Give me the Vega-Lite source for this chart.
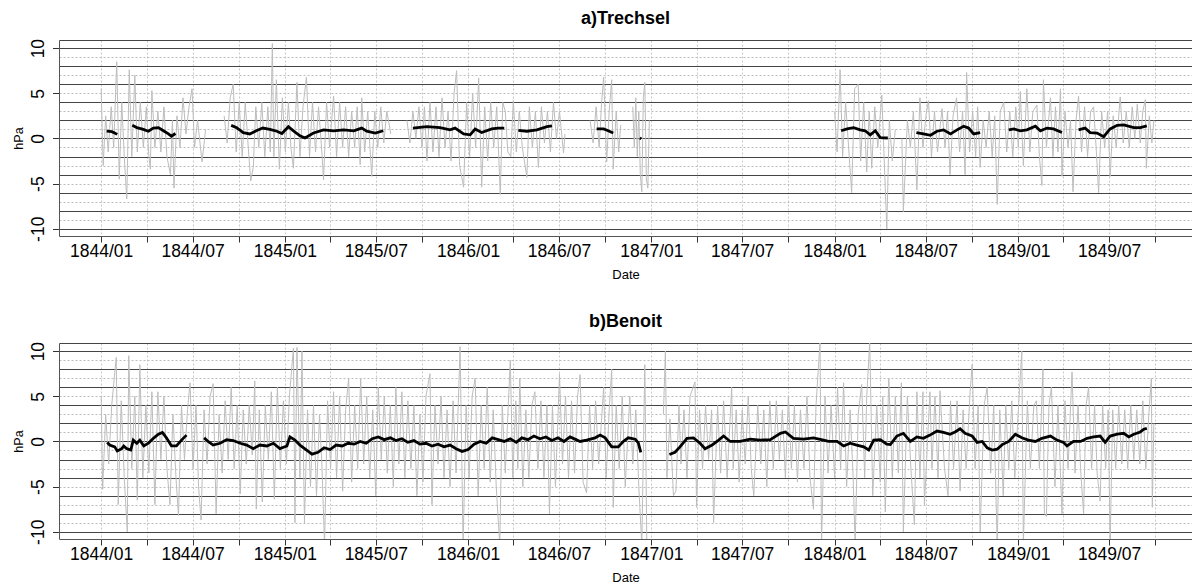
{
"$schema":"https://vega.github.io/schema/vega-lite/v6.json",
"background":"white",
"padding":{"left":12,"top":10,"right":0,"bottom":0},
"spacing":32,
"config":{"view":{"stroke":null},"font":"Liberation Sans","axis":{"labelFont":"Liberation Sans","titleFont":"Liberation Sans"},"title":{"font":"Liberation Sans"}},
"datasets":{
"ar":[
{"t":"1844-01-01","v":5.5,"g":1},{"t":"1844-01-05","v":-3,"g":1},{"t":"1844-01-10","v":2.5,"g":1},{"t":"1844-01-15","v":-1.5,"g":1},{"t":"1844-01-21","v":3.5,"g":1},{"t":"1844-01-26","v":-1,"g":1},{"t":"1844-02-01","v":8.5,"g":1},{"t":"1844-02-06","v":-4.5,"g":1},{"t":"1844-02-11","v":4,"g":1},{"t":"1844-02-16","v":-2,"g":1},{"t":"1844-02-21","v":-6.7,"g":1},{"t":"1844-02-26","v":7.6,"g":1},{"t":"1844-03-02","v":-2,"g":1},{"t":"1844-03-08","v":7,"g":1},{"t":"1844-03-13","v":-1.5,"g":1},{"t":"1844-03-19","v":4,"g":1},{"t":"1844-03-25","v":-1,"g":1},{"t":"1844-03-31","v":3.5,"g":1},{"t":"1844-04-05","v":-2,"g":1},{"t":"1844-04-08","v":-3.4,"g":1},{"t":"1844-04-11","v":5.3,"g":1},{"t":"1844-04-17","v":-1,"g":1},{"t":"1844-04-23","v":3,"g":1},{"t":"1844-04-29","v":-1.5,"g":1},{"t":"1844-05-05","v":3.5,"g":1},{"t":"1844-05-11","v":-2,"g":1},{"t":"1844-05-18","v":-4,"g":1},{"t":"1844-05-22","v":2,"g":1},{"t":"1844-05-25","v":-5.5,"g":1},{"t":"1844-05-31","v":2.5,"g":1},{"t":"1844-06-06","v":-1,"g":1},{"t":"1844-06-12","v":4.5,"g":1},{"t":"1844-06-18","v":0.5,"g":1},{"t":"1844-06-24","v":3.5,"g":1},{"t":"1844-06-30","v":5.5,"g":1},{"t":"1844-07-05","v":-1,"g":1},{"t":"1844-07-11","v":2,"g":1},{"t":"1844-07-20","v":-2.6,"g":1},{"t":"1844-07-27","v":1,"g":1},
{"t":"1844-09-02","v":2.5,"g":2},{"t":"1844-09-08","v":-0.5,"g":2},{"t":"1844-09-14","v":4.5,"g":2},{"t":"1844-09-20","v":6,"g":2},{"t":"1844-09-26","v":-1.5,"g":2},{"t":"1844-10-02","v":4,"g":2},{"t":"1844-10-08","v":-2,"g":2},{"t":"1844-10-14","v":4,"g":2},{"t":"1844-10-20","v":-1,"g":2},{"t":"1844-10-25","v":-4.7,"g":2},{"t":"1844-10-30","v":-3.2,"g":2},{"t":"1844-11-04","v":3.5,"g":2},{"t":"1844-11-10","v":-1,"g":2},{"t":"1844-11-16","v":4,"g":2},{"t":"1844-11-22","v":-2,"g":2},{"t":"1844-11-28","v":3.5,"g":2},{"t":"1844-12-03","v":-1.5,"g":2},{"t":"1844-12-07","v":10.5,"g":2},{"t":"1844-12-10","v":-2,"g":2},{"t":"1844-12-15","v":6.5,"g":2},{"t":"1844-12-21","v":-3.4,"g":2},{"t":"1844-12-27","v":4.5,"g":2},{"t":"1845-01-02","v":-1.5,"g":2},{"t":"1845-01-08","v":4,"g":2},{"t":"1845-01-13","v":-1,"g":2},{"t":"1845-01-18","v":-3.3,"g":2},{"t":"1845-01-25","v":6.2,"g":2},{"t":"1845-01-31","v":-2,"g":2},{"t":"1845-02-06","v":3.5,"g":2},{"t":"1845-02-13","v":6.8,"g":2},{"t":"1845-02-19","v":-2,"g":2},{"t":"1845-02-25","v":4,"g":2},{"t":"1845-03-03","v":-1.5,"g":2},{"t":"1845-03-09","v":3.5,"g":2},{"t":"1845-03-15","v":-1,"g":2},{"t":"1845-03-19","v":-4.6,"g":2},{"t":"1845-03-25","v":4,"g":2},{"t":"1845-03-31","v":-1,"g":2},{"t":"1845-04-08","v":4.7,"g":2},{"t":"1845-04-14","v":-2,"g":2},{"t":"1845-04-20","v":4,"g":2},{"t":"1845-04-26","v":-1,"g":2},{"t":"1845-05-02","v":3.5,"g":2},{"t":"1845-05-08","v":-2,"g":2},{"t":"1845-05-14","v":3,"g":2},{"t":"1845-05-20","v":-1,"g":2},{"t":"1845-05-25","v":3.5,"g":2},{"t":"1845-05-31","v":-2.9,"g":2},{"t":"1845-06-03","v":4.5,"g":2},{"t":"1845-06-09","v":-1.5,"g":2},{"t":"1845-06-15","v":3,"g":2},{"t":"1845-06-23","v":-4.2,"g":2},{"t":"1845-06-29","v":3,"g":2},{"t":"1845-07-05","v":-1,"g":2},{"t":"1845-07-11","v":3.5,"g":2},{"t":"1845-07-17","v":-0.5,"g":2},{"t":"1845-07-23","v":3,"g":2},{"t":"1845-07-31","v":0.5,"g":2},
{"t":"1845-09-01","v":2,"g":3},{"t":"1845-09-07","v":-0.5,"g":3},{"t":"1845-09-13","v":3,"g":3},{"t":"1845-09-19","v":0,"g":3},{"t":"1845-09-25","v":3.5,"g":3},{"t":"1845-10-01","v":-1,"g":3},{"t":"1845-10-06","v":3.5,"g":3},{"t":"1845-10-11","v":-2.5,"g":3},{"t":"1845-10-17","v":4,"g":3},{"t":"1845-10-23","v":-1.5,"g":3},{"t":"1845-10-29","v":3.5,"g":3},{"t":"1845-11-04","v":-2,"g":3},{"t":"1845-11-10","v":4.5,"g":3},{"t":"1845-11-16","v":-1,"g":3},{"t":"1845-11-22","v":3,"g":3},{"t":"1845-11-28","v":-2.5,"g":3},{"t":"1845-12-04","v":5,"g":3},{"t":"1845-12-09","v":7.5,"g":3},{"t":"1845-12-15","v":-3,"g":3},{"t":"1845-12-23","v":-5.4,"g":3},{"t":"1845-12-29","v":4,"g":3},{"t":"1846-01-04","v":-2,"g":3},{"t":"1846-01-10","v":5,"g":3},{"t":"1846-01-16","v":-1,"g":3},{"t":"1846-01-22","v":6.7,"g":3},{"t":"1846-01-28","v":-5.4,"g":3},{"t":"1846-02-03","v":3.5,"g":3},{"t":"1846-02-09","v":-2.5,"g":3},{"t":"1846-02-15","v":4,"g":3},{"t":"1846-02-21","v":-1,"g":3},{"t":"1846-02-27","v":3.5,"g":3},{"t":"1846-03-06","v":-6.2,"g":3},{"t":"1846-03-11","v":4,"g":3},{"t":"1846-03-16","v":3,"g":3},{"t":"1846-03-21","v":-1.5,"g":3},{"t":"1846-03-27","v":-2,"g":3},{"t":"1846-04-01","v":4.2,"g":3},{"t":"1846-04-07","v":-1.5,"g":3},{"t":"1846-04-13","v":3,"g":3},{"t":"1846-04-19","v":-1,"g":3},{"t":"1846-04-28","v":-4.3,"g":3},{"t":"1846-05-03","v":3.5,"g":3},{"t":"1846-05-09","v":-1,"g":3},{"t":"1846-05-15","v":3,"g":3},{"t":"1846-05-21","v":-3.2,"g":3},{"t":"1846-05-27","v":3.5,"g":3},{"t":"1846-06-02","v":-0.5,"g":3},{"t":"1846-06-08","v":3,"g":3},{"t":"1846-06-14","v":-1.5,"g":3},{"t":"1846-06-20","v":4,"g":3},{"t":"1846-06-26","v":0,"g":3},{"t":"1846-07-02","v":3,"g":3},{"t":"1846-07-10","v":-1.6,"g":3},{"t":"1846-07-13","v":0.5,"g":3},
{"t":"1846-09-01","v":2,"g":4},{"t":"1846-09-07","v":-0.5,"g":4},{"t":"1846-09-13","v":3.5,"g":4},{"t":"1846-09-19","v":-1,"g":4},{"t":"1846-09-24","v":4,"g":4},{"t":"1846-09-28","v":6.8,"g":4},{"t":"1846-10-04","v":-2.6,"g":4},{"t":"1846-10-09","v":3,"g":4},{"t":"1846-10-14","v":6.5,"g":4},{"t":"1846-10-17","v":-3.4,"g":4},{"t":"1846-10-23","v":3,"g":4},{"t":"1846-10-28","v":-1.5,"g":4},{"t":"1846-11-01","v":1.5,"g":4},
{"t":"1846-11-25","v":3.5,"g":5},{"t":"1846-11-28","v":-1,"g":5},{"t":"1846-12-01","v":4.5,"g":5},{"t":"1846-12-04","v":-2,"g":5},{"t":"1846-12-07","v":3,"g":5},{"t":"1846-12-10","v":-4,"g":5},{"t":"1846-12-13","v":-5.9,"g":5},{"t":"1846-12-16","v":4.5,"g":5},{"t":"1846-12-19","v":6.2,"g":5},{"t":"1846-12-22","v":-4.5,"g":5},{"t":"1846-12-25","v":-5.5,"g":5},{"t":"1846-12-28","v":2,"g":5},
{"t":"1848-01-01","v":3,"g":6},{"t":"1848-01-06","v":-1.5,"g":6},{"t":"1848-01-12","v":7.6,"g":6},{"t":"1848-01-17","v":-2,"g":6},{"t":"1848-01-23","v":4,"g":6},{"t":"1848-01-29","v":-1,"g":6},{"t":"1848-02-04","v":-6,"g":6},{"t":"1848-02-10","v":5.5,"g":6},{"t":"1848-02-17","v":6,"g":6},{"t":"1848-02-22","v":-2.5,"g":6},{"t":"1848-02-28","v":4,"g":6},{"t":"1848-03-05","v":-3.7,"g":6},{"t":"1848-03-10","v":3,"g":6},{"t":"1848-03-15","v":-3.3,"g":6},{"t":"1848-03-21","v":3.5,"g":6},{"t":"1848-03-27","v":-1,"g":6},{"t":"1848-04-04","v":4.8,"g":6},{"t":"1848-04-11","v":-5.5,"g":6},{"t":"1848-04-14","v":-10,"g":6},{"t":"1848-04-19","v":2,"g":6},{"t":"1848-04-25","v":-2.5,"g":6},{"t":"1848-05-01","v":1,"g":6},
{"t":"1848-05-14","v":0,"g":7},{"t":"1848-05-17","v":-8.1,"g":7},{"t":"1848-05-25","v":2,"g":7},{"t":"1848-05-31","v":-1,"g":7},{"t":"1848-06-06","v":3,"g":7},{"t":"1848-06-13","v":-5.7,"g":7},{"t":"1848-06-19","v":4.5,"g":7},{"t":"1848-06-25","v":-1,"g":7},{"t":"1848-07-01","v":2.5,"g":7},{"t":"1848-07-06","v":4.2,"g":7},{"t":"1848-07-12","v":-2,"g":7},{"t":"1848-07-18","v":3,"g":7},{"t":"1848-07-24","v":-1.5,"g":7},{"t":"1848-08-02","v":3.3,"g":7},{"t":"1848-08-08","v":-1,"g":7},{"t":"1848-08-13","v":3,"g":7},{"t":"1848-08-18","v":-4,"g":7},{"t":"1848-08-24","v":2.5,"g":7},{"t":"1848-08-31","v":4.5,"g":7},{"t":"1848-09-06","v":-1.5,"g":7},{"t":"1848-09-12","v":3,"g":7},{"t":"1848-09-17","v":-4,"g":7},{"t":"1848-09-20","v":7.3,"g":7},{"t":"1848-09-26","v":-1.5,"g":7},{"t":"1848-10-02","v":3,"g":7},{"t":"1848-10-08","v":-2,"g":7},{"t":"1848-10-12","v":3.5,"g":7},{"t":"1848-10-17","v":-3.2,"g":7},{"t":"1848-10-23","v":2,"g":7},{"t":"1848-10-29","v":-1,"g":7},{"t":"1848-11-04","v":3,"g":7},{"t":"1848-11-10","v":-2,"g":7},{"t":"1848-11-15","v":2.5,"g":7},{"t":"1848-11-20","v":-7.3,"g":7},{"t":"1848-11-26","v":3,"g":7},{"t":"1848-12-03","v":4,"g":7},{"t":"1848-12-09","v":-1.5,"g":7},{"t":"1848-12-15","v":3,"g":7},{"t":"1848-12-21","v":-2,"g":7},{"t":"1848-12-27","v":3.5,"g":7},{"t":"1849-01-01","v":-1,"g":7},{"t":"1849-01-05","v":5.2,"g":7},{"t":"1849-01-11","v":-3,"g":7},{"t":"1849-01-18","v":5.5,"g":7},{"t":"1849-01-24","v":-1.5,"g":7},{"t":"1849-01-30","v":3,"g":7},{"t":"1849-02-07","v":3.7,"g":7},{"t":"1849-02-12","v":-2,"g":7},{"t":"1849-02-17","v":-5.2,"g":7},{"t":"1849-02-20","v":6.5,"g":7},{"t":"1849-02-26","v":-1,"g":7},{"t":"1849-03-06","v":4.5,"g":7},{"t":"1849-03-11","v":-2,"g":7},{"t":"1849-03-16","v":3.5,"g":7},{"t":"1849-03-21","v":-1.5,"g":7},{"t":"1849-03-26","v":5.5,"g":7},{"t":"1849-03-29","v":-4.2,"g":7},{"t":"1849-04-04","v":3,"g":7},{"t":"1849-04-10","v":-1,"g":7},{"t":"1849-04-15","v":2,"g":7},{"t":"1849-04-20","v":-5.9,"g":7},{"t":"1849-04-26","v":2,"g":7},{"t":"1849-05-01","v":4.7,"g":7},{"t":"1849-05-07","v":-1.5,"g":7},{"t":"1849-05-13","v":3.5,"g":7},{"t":"1849-05-19","v":-2,"g":7},{"t":"1849-05-25","v":3,"g":7},{"t":"1849-05-31","v":3.5,"g":7},{"t":"1849-06-05","v":-1,"g":7},{"t":"1849-06-10","v":-6,"g":7},{"t":"1849-06-16","v":3,"g":7},{"t":"1849-06-22","v":-1,"g":7},{"t":"1849-06-28","v":3,"g":7},{"t":"1849-07-03","v":-4.2,"g":7},{"t":"1849-07-09","v":2.5,"g":7},{"t":"1849-07-15","v":-1,"g":7},{"t":"1849-07-23","v":4.6,"g":7},{"t":"1849-07-29","v":-0.5,"g":7},{"t":"1849-08-04","v":3,"g":7},{"t":"1849-08-10","v":-1,"g":7},{"t":"1849-08-16","v":3.5,"g":7},{"t":"1849-08-21","v":0,"g":7},{"t":"1849-08-26","v":3.8,"g":7},{"t":"1849-09-01","v":-0.5,"g":7},{"t":"1849-09-06","v":3,"g":7},{"t":"1849-09-11","v":4.3,"g":7},{"t":"1849-09-13","v":-3.3,"g":7},{"t":"1849-09-19","v":2.5,"g":7},{"t":"1849-09-24","v":-0.5,"g":7},{"t":"1849-09-28","v":2,"g":7}
],
"as":[
{"t":"1844-01-12","v":0.8,"g":1},{"t":"1844-01-22","v":0.75,"g":1},{"t":"1844-01-28","v":0.6,"g":1},{"t":"1844-02-02","v":0.45,"g":1},
{"t":"1844-03-03","v":1.45,"g":2},{"t":"1844-03-12","v":1.2,"g":2},{"t":"1844-03-25","v":1,"g":2},{"t":"1844-04-04","v":0.8,"g":2},{"t":"1844-04-14","v":1.15,"g":2},{"t":"1844-04-24","v":1.2,"g":2},{"t":"1844-05-04","v":0.85,"g":2},{"t":"1844-05-14","v":0.5,"g":2},{"t":"1844-05-20","v":0.25,"g":2},{"t":"1844-05-28","v":0.55,"g":2},
{"t":"1844-09-16","v":1.45,"g":3},{"t":"1844-09-27","v":1.2,"g":3},{"t":"1844-10-10","v":0.65,"g":3},{"t":"1844-10-23","v":0.5,"g":3},{"t":"1844-11-05","v":0.85,"g":3},{"t":"1844-11-18","v":1.15,"g":3},{"t":"1844-12-02","v":1,"g":3},{"t":"1844-12-16","v":0.8,"g":3},{"t":"1844-12-26","v":0.55,"g":3},{"t":"1845-01-08","v":1.3,"g":3},{"t":"1845-01-18","v":0.85,"g":3},{"t":"1845-01-31","v":0.3,"g":3},{"t":"1845-02-10","v":0.05,"g":3},{"t":"1845-02-27","v":0.6,"g":3},{"t":"1845-03-19","v":0.95,"g":3},{"t":"1845-04-08","v":0.85,"g":3},{"t":"1845-04-28","v":0.95,"g":3},{"t":"1845-05-18","v":0.85,"g":3},{"t":"1845-06-03","v":1.15,"g":3},{"t":"1845-06-13","v":0.8,"g":3},{"t":"1845-06-30","v":0.6,"g":3},{"t":"1845-07-16","v":0.85,"g":3},
{"t":"1845-09-13","v":1.15,"g":4},{"t":"1845-10-11","v":1.3,"g":4},{"t":"1845-11-06","v":1.2,"g":4},{"t":"1845-11-26","v":0.95,"g":4},{"t":"1845-12-06","v":1.15,"g":4},{"t":"1845-12-23","v":0.5,"g":4},{"t":"1846-01-05","v":0.4,"g":4},{"t":"1846-01-15","v":1.05,"g":4},{"t":"1846-01-28","v":0.65,"g":4},{"t":"1846-02-17","v":1.05,"g":4},{"t":"1846-03-02","v":1.15,"g":4},{"t":"1846-03-14","v":1.15,"g":4},
{"t":"1846-04-11","v":0.9,"g":5},{"t":"1846-04-28","v":0.8,"g":5},{"t":"1846-05-18","v":0.95,"g":5},{"t":"1846-06-07","v":1.3,"g":5},{"t":"1846-06-17","v":1.4,"g":5},
{"t":"1846-09-14","v":1.05,"g":6},{"t":"1846-09-28","v":1.05,"g":6},{"t":"1846-10-07","v":0.85,"g":6},{"t":"1846-10-17","v":0.6,"g":6},
{"t":"1846-12-09","v":0.05,"g":7},{"t":"1846-12-12","v":-0.05,"g":7},
{"t":"1848-01-14","v":0.85,"g":8},{"t":"1848-01-26","v":1.05,"g":8},{"t":"1848-02-08","v":1.2,"g":8},{"t":"1848-02-21","v":0.95,"g":8},{"t":"1848-03-02","v":0.85,"g":8},{"t":"1848-03-12","v":0.4,"g":8},{"t":"1848-03-22","v":0.85,"g":8},{"t":"1848-04-01","v":0.1,"g":8},{"t":"1848-04-16","v":0.05,"g":8},
{"t":"1848-06-12","v":0.65,"g":9},{"t":"1848-06-26","v":0.5,"g":9},{"t":"1848-07-10","v":0.35,"g":9},{"t":"1848-07-23","v":0.8,"g":9},{"t":"1848-08-05","v":0.95,"g":9},{"t":"1848-08-19","v":0.5,"g":9},{"t":"1848-09-01","v":0.95,"g":9},{"t":"1848-09-14","v":1.35,"g":9},{"t":"1848-09-24","v":1.15,"g":9},{"t":"1848-10-04","v":0.5,"g":9},{"t":"1848-10-17","v":0.65,"g":9},
{"t":"1848-12-13","v":0.95,"g":10},{"t":"1848-12-23","v":1.05,"g":10},{"t":"1849-01-05","v":0.85,"g":10},{"t":"1849-01-18","v":0.95,"g":10},{"t":"1849-02-04","v":1.35,"g":10},{"t":"1849-02-14","v":0.85,"g":10},{"t":"1849-02-27","v":1.15,"g":10},{"t":"1849-03-12","v":1.05,"g":10},{"t":"1849-03-29","v":0.65,"g":10},
{"t":"1849-05-01","v":0.95,"g":11},{"t":"1849-05-14","v":1.15,"g":11},{"t":"1849-05-24","v":0.65,"g":11},{"t":"1849-06-07","v":0.6,"g":11},{"t":"1849-06-20","v":0.2,"g":11},{"t":"1849-07-03","v":1.05,"g":11},{"t":"1849-07-17","v":1.45,"g":11},{"t":"1849-07-30","v":1.5,"g":11},{"t":"1849-08-19","v":1.2,"g":11},{"t":"1849-09-01","v":1.2,"g":11},{"t":"1849-09-14","v":1.4,"g":11}
],
"br":[
{"t":"1844-01-01","v":5,"g":1},{"t":"1844-01-04","v":-5.3,"g":1},{"t":"1844-01-10","v":3,"g":1},{"t":"1844-01-16","v":-2.5,"g":1},{"t":"1844-01-22","v":4,"g":1},{"t":"1844-01-31","v":9.3,"g":1},{"t":"1844-02-04","v":-7,"g":1},{"t":"1844-02-10","v":4.5,"g":1},{"t":"1844-02-16","v":-4,"g":1},{"t":"1844-02-22","v":-10,"g":1},{"t":"1844-02-25","v":9.5,"g":1},{"t":"1844-03-02","v":-3,"g":1},{"t":"1844-03-08","v":5,"g":1},{"t":"1844-03-13","v":-6.5,"g":1},{"t":"1844-03-18","v":8.5,"g":1},{"t":"1844-03-24","v":-4,"g":1},{"t":"1844-03-30","v":4,"g":1},{"t":"1844-04-05","v":-3.5,"g":1},{"t":"1844-04-11","v":5.5,"g":1},{"t":"1844-04-17","v":-7,"g":1},{"t":"1844-04-23","v":5.5,"g":1},{"t":"1844-04-29","v":-2,"g":1},{"t":"1844-05-05","v":5,"g":1},{"t":"1844-05-11","v":-3,"g":1},{"t":"1844-05-17","v":-7,"g":1},{"t":"1844-05-23","v":3,"g":1},{"t":"1844-05-29","v":-4,"g":1},{"t":"1844-06-03","v":-8.2,"g":1},{"t":"1844-06-09","v":4,"g":1},{"t":"1844-06-15","v":-2,"g":1},{"t":"1844-06-21","v":3.5,"g":1},{"t":"1844-06-26","v":6.5,"g":1},{"t":"1844-07-02","v":-3,"g":1},{"t":"1844-07-08","v":4,"g":1},{"t":"1844-07-13","v":-5,"g":1},{"t":"1844-07-18","v":-8.7,"g":1},{"t":"1844-07-24","v":3.5,"g":1},{"t":"1844-07-30","v":-2.5,"g":1},{"t":"1844-08-05","v":5,"g":1},{"t":"1844-08-11","v":6.4,"g":1},{"t":"1844-08-17","v":-8,"g":1},{"t":"1844-08-23","v":3,"g":1},{"t":"1844-08-29","v":-3.5,"g":1},{"t":"1844-09-04","v":4.5,"g":1},{"t":"1844-09-10","v":-2,"g":1},{"t":"1844-09-16","v":6,"g":1},{"t":"1844-09-22","v":-3,"g":1},{"t":"1844-09-28","v":4,"g":1},{"t":"1844-10-04","v":-5.8,"g":1},{"t":"1844-10-10","v":3.5,"g":1},{"t":"1844-10-16","v":-2.5,"g":1},{"t":"1844-10-22","v":4,"g":1},{"t":"1844-10-28","v":-1.5,"g":1},{"t":"1844-11-02","v":6.7,"g":1},{"t":"1844-11-05","v":-7.5,"g":1},{"t":"1844-11-11","v":3.5,"g":1},{"t":"1844-11-17","v":-6.7,"g":1},{"t":"1844-11-23","v":4,"g":1},{"t":"1844-11-29","v":-2,"g":1},{"t":"1844-12-05","v":5.5,"g":1},{"t":"1844-12-11","v":-6.4,"g":1},{"t":"1844-12-17","v":6,"g":1},{"t":"1844-12-23","v":-3,"g":1},{"t":"1844-12-29","v":4.5,"g":1},{"t":"1845-01-04","v":-2.5,"g":1},{"t":"1845-01-10","v":5,"g":1},{"t":"1845-01-18","v":10.3,"g":1},{"t":"1845-01-21","v":-9,"g":1},{"t":"1845-01-25","v":10.4,"g":1},{"t":"1845-01-31","v":-4,"g":1},{"t":"1845-02-04","v":10,"g":1},{"t":"1845-02-09","v":-9,"g":1},{"t":"1845-02-15","v":3.5,"g":1},{"t":"1845-02-21","v":-5,"g":1},{"t":"1845-02-27","v":4,"g":1},{"t":"1845-03-05","v":-6,"g":1},{"t":"1845-03-11","v":3,"g":1},{"t":"1845-03-16","v":-3,"g":1},{"t":"1845-03-21","v":-11.5,"g":1},{"t":"1845-03-27","v":4.5,"g":1},{"t":"1845-04-02","v":-3,"g":1},{"t":"1845-04-08","v":5.5,"g":1},{"t":"1845-04-14","v":-4,"g":1},{"t":"1845-04-20","v":5,"g":1},{"t":"1845-04-26","v":-5.5,"g":1},{"t":"1845-05-02","v":3.5,"g":1},{"t":"1845-05-08","v":7,"g":1},{"t":"1845-05-14","v":-4.5,"g":1},{"t":"1845-05-20","v":4,"g":1},{"t":"1845-05-26","v":-3,"g":1},{"t":"1845-06-01","v":7,"g":1},{"t":"1845-06-07","v":-2.5,"g":1},{"t":"1845-06-13","v":5,"g":1},{"t":"1845-06-19","v":-4,"g":1},{"t":"1845-06-25","v":3.5,"g":1},{"t":"1845-07-01","v":-6,"g":1},{"t":"1845-07-06","v":6,"g":1},{"t":"1845-07-12","v":-2,"g":1},{"t":"1845-07-18","v":5,"g":1},{"t":"1845-07-24","v":-3.5,"g":1},{"t":"1845-07-30","v":4,"g":1},{"t":"1845-08-05","v":-5,"g":1},{"t":"1845-08-10","v":6,"g":1},{"t":"1845-08-16","v":-2.5,"g":1},{"t":"1845-08-22","v":5.5,"g":1},{"t":"1845-08-28","v":-4,"g":1},{"t":"1845-09-03","v":4.5,"g":1},{"t":"1845-09-09","v":-3,"g":1},{"t":"1845-09-15","v":4,"g":1},{"t":"1845-09-21","v":-6,"g":1},{"t":"1845-09-27","v":3,"g":1},{"t":"1845-10-03","v":-4.5,"g":1},{"t":"1845-10-09","v":5,"g":1},{"t":"1845-10-17","v":7.5,"g":1},{"t":"1845-10-21","v":-7,"g":1},{"t":"1845-10-27","v":4,"g":1},{"t":"1845-11-02","v":-2.5,"g":1},{"t":"1845-11-08","v":5,"g":1},{"t":"1845-11-14","v":-4,"g":1},{"t":"1845-11-20","v":3.5,"g":1},{"t":"1845-11-26","v":-5,"g":1},{"t":"1845-12-02","v":4.5,"g":1},{"t":"1845-12-08","v":-3.5,"g":1},{"t":"1845-12-16","v":10.5,"g":1},{"t":"1845-12-22","v":-11.5,"g":1},{"t":"1845-12-28","v":4,"g":1},{"t":"1846-01-03","v":-4,"g":1},{"t":"1846-01-09","v":5,"g":1},{"t":"1846-01-15","v":7,"g":1},{"t":"1846-01-21","v":-6,"g":1},{"t":"1846-01-27","v":4,"g":1},{"t":"1846-02-02","v":-3,"g":1},{"t":"1846-02-08","v":6,"g":1},{"t":"1846-02-14","v":-4.5,"g":1},{"t":"1846-02-20","v":3.5,"g":1},{"t":"1846-02-26","v":-5,"g":1},{"t":"1846-03-05","v":-11.5,"g":1},{"t":"1846-03-10","v":4,"g":1},{"t":"1846-03-16","v":-3.5,"g":1},{"t":"1846-03-26","v":9,"g":1},{"t":"1846-03-31","v":-4,"g":1},{"t":"1846-04-06","v":4.5,"g":1},{"t":"1846-04-10","v":-3,"g":1},{"t":"1846-04-14","v":7,"g":1},{"t":"1846-04-20","v":-5,"g":1},{"t":"1846-04-26","v":3.5,"g":1},{"t":"1846-05-02","v":-4,"g":1},{"t":"1846-05-08","v":4,"g":1},{"t":"1846-05-14","v":5.5,"g":1},{"t":"1846-05-20","v":-3,"g":1},{"t":"1846-05-26","v":4.5,"g":1},{"t":"1846-06-01","v":-4,"g":1},{"t":"1846-06-07","v":4,"g":1},{"t":"1846-06-12","v":-8,"g":1},{"t":"1846-06-18","v":4,"g":1},{"t":"1846-06-24","v":-5,"g":1},{"t":"1846-07-02","v":7.5,"g":1},{"t":"1846-07-08","v":-2.5,"g":1},{"t":"1846-07-14","v":5,"g":1},{"t":"1846-07-20","v":-4,"g":1},{"t":"1846-07-26","v":4.5,"g":1},{"t":"1846-08-01","v":-3.5,"g":1},{"t":"1846-08-07","v":5,"g":1},{"t":"1846-08-12","v":7.4,"g":1},{"t":"1846-08-18","v":-4.5,"g":1},{"t":"1846-08-25","v":-5.7,"g":1},{"t":"1846-08-31","v":4,"g":1},{"t":"1846-09-06","v":-3,"g":1},{"t":"1846-09-12","v":4.5,"g":1},{"t":"1846-09-18","v":-2.5,"g":1},{"t":"1846-09-28","v":6,"g":1},{"t":"1846-10-03","v":-4,"g":1},{"t":"1846-10-09","v":3.5,"g":1},{"t":"1846-10-14","v":8,"g":1},{"t":"1846-10-17","v":-7.3,"g":1},{"t":"1846-10-23","v":4,"g":1},{"t":"1846-10-29","v":-3,"g":1},{"t":"1846-11-04","v":5,"g":1},{"t":"1846-11-10","v":-5,"g":1},{"t":"1846-11-19","v":5,"g":1},{"t":"1846-11-25","v":-2.5,"g":1},{"t":"1846-12-01","v":3.5,"g":1},{"t":"1846-12-07","v":-5,"g":1},{"t":"1846-12-13","v":-11.5,"g":1},{"t":"1846-12-19","v":8.5,"g":1},{"t":"1846-12-23","v":-11.5,"g":1},
{"t":"1847-01-25","v":3,"g":2},{"t":"1847-01-29","v":10,"g":2},{"t":"1847-02-01","v":-4,"g":2},{"t":"1847-02-07","v":2.5,"g":2},{"t":"1847-02-14","v":-6,"g":2},{"t":"1847-02-19","v":-5.5,"g":2},{"t":"1847-02-25","v":4,"g":2},{"t":"1847-03-01","v":-2.5,"g":2},{"t":"1847-03-07","v":3.5,"g":2},{"t":"1847-03-13","v":-4,"g":2},{"t":"1847-03-19","v":5,"g":2},{"t":"1847-03-29","v":6.6,"g":2},{"t":"1847-04-01","v":-7.3,"g":2},{"t":"1847-04-07","v":3.5,"g":2},{"t":"1847-04-13","v":-3,"g":2},{"t":"1847-04-19","v":4,"g":2},{"t":"1847-04-25","v":-2,"g":2},{"t":"1847-05-01","v":3.5,"g":2},{"t":"1847-05-05","v":-9,"g":2},{"t":"1847-05-13","v":4,"g":2},{"t":"1847-05-19","v":-3.5,"g":2},{"t":"1847-05-25","v":4.5,"g":2},{"t":"1847-06-01","v":-4,"g":2},{"t":"1847-06-10","v":6,"g":2},{"t":"1847-06-13","v":-3,"g":2},{"t":"1847-06-19","v":3.5,"g":2},{"t":"1847-06-25","v":-4.5,"g":2},{"t":"1847-07-01","v":3.5,"g":2},{"t":"1847-07-07","v":-2.5,"g":2},{"t":"1847-07-13","v":5,"g":2},{"t":"1847-07-19","v":-3,"g":2},{"t":"1847-07-24","v":-6,"g":2},{"t":"1847-08-01","v":4,"g":2},{"t":"1847-08-07","v":-2.5,"g":2},{"t":"1847-08-13","v":3.5,"g":2},{"t":"1847-08-19","v":-5,"g":2},{"t":"1847-08-25","v":4.5,"g":2},{"t":"1847-09-01","v":-3,"g":2},{"t":"1847-09-07","v":4.5,"g":2},{"t":"1847-09-13","v":-2,"g":2},{"t":"1847-09-19","v":3.5,"g":2},{"t":"1847-09-25","v":-4,"g":2},{"t":"1847-10-01","v":5,"g":2},{"t":"1847-10-07","v":-3,"g":2},{"t":"1847-10-13","v":4,"g":2},{"t":"1847-10-19","v":-4.5,"g":2},{"t":"1847-10-25","v":3.5,"g":2},{"t":"1847-11-01","v":-3,"g":2},{"t":"1847-11-07","v":5,"g":2},{"t":"1847-11-13","v":-4,"g":2},{"t":"1847-11-20","v":-7.5,"g":2},{"t":"1847-11-25","v":4,"g":2},{"t":"1847-12-03","v":11,"g":2},{"t":"1847-12-06","v":-11.5,"g":2},{"t":"1847-12-13","v":5,"g":2},{"t":"1847-12-19","v":-3.5,"g":2},{"t":"1847-12-25","v":4,"g":2},{"t":"1848-01-01","v":-4,"g":2},{"t":"1848-01-07","v":6,"g":2},{"t":"1848-01-13","v":-3,"g":2},{"t":"1848-01-19","v":6.5,"g":2},{"t":"1848-01-25","v":-5,"g":2},{"t":"1848-02-01","v":3.5,"g":2},{"t":"1848-02-07","v":-4,"g":2},{"t":"1848-02-11","v":-11.5,"g":2},{"t":"1848-02-17","v":3,"g":2},{"t":"1848-02-24","v":6.3,"g":2},{"t":"1848-03-01","v":-4,"g":2},{"t":"1848-03-05","v":5,"g":2},{"t":"1848-03-11","v":11,"g":2},{"t":"1848-03-17","v":-6,"g":2},{"t":"1848-03-25","v":4,"g":2},{"t":"1848-04-01","v":-4.5,"g":2},{"t":"1848-04-06","v":5,"g":2},{"t":"1848-04-11","v":-7.8,"g":2},{"t":"1848-04-18","v":7,"g":2},{"t":"1848-04-25","v":-4,"g":2},{"t":"1848-05-01","v":5,"g":2},{"t":"1848-05-07","v":-3.5,"g":2},{"t":"1848-05-13","v":6.5,"g":2},{"t":"1848-05-17","v":-10,"g":2},{"t":"1848-05-25","v":5,"g":2},{"t":"1848-06-01","v":-3,"g":2},{"t":"1848-06-08","v":-9.2,"g":2},{"t":"1848-06-13","v":5.5,"g":2},{"t":"1848-06-19","v":-4,"g":2},{"t":"1848-06-25","v":5.5,"g":2},{"t":"1848-06-28","v":-7,"g":2},{"t":"1848-07-09","v":5.5,"g":2},{"t":"1848-07-13","v":-3,"g":2},{"t":"1848-07-19","v":5,"g":2},{"t":"1848-07-25","v":-4,"g":2},{"t":"1848-07-29","v":5.6,"g":2},{"t":"1848-08-07","v":-3,"g":2},{"t":"1848-08-14","v":-6,"g":2},{"t":"1848-08-19","v":4.5,"g":2},{"t":"1848-08-25","v":-3,"g":2},{"t":"1848-09-01","v":4.5,"g":2},{"t":"1848-09-07","v":-5.5,"g":2},{"t":"1848-09-13","v":3.5,"g":2},{"t":"1848-09-19","v":-3,"g":2},{"t":"1848-09-27","v":5.5,"g":2},{"t":"1848-10-01","v":8.5,"g":2},{"t":"1848-10-07","v":-3,"g":2},{"t":"1848-10-13","v":4,"g":2},{"t":"1848-10-17","v":-10,"g":2},{"t":"1848-10-25","v":4,"g":2},{"t":"1848-10-31","v":6,"g":2},{"t":"1848-11-07","v":-3.5,"g":2},{"t":"1848-11-13","v":4,"g":2},{"t":"1848-11-20","v":-11.5,"g":2},{"t":"1848-11-25","v":3.5,"g":2},{"t":"1848-12-02","v":-6,"g":2},{"t":"1848-12-07","v":4,"g":2},{"t":"1848-12-13","v":-3,"g":2},{"t":"1848-12-19","v":4.5,"g":2},{"t":"1848-12-25","v":-4,"g":2},{"t":"1849-01-01","v":3.5,"g":2},{"t":"1849-01-08","v":10,"g":2},{"t":"1849-01-11","v":-11.5,"g":2},{"t":"1849-01-19","v":4.5,"g":2},{"t":"1849-01-25","v":-3,"g":2},{"t":"1849-02-01","v":4,"g":2},{"t":"1849-02-06","v":4.5,"g":2},{"t":"1849-02-12","v":-3,"g":2},{"t":"1849-02-19","v":8,"g":2},{"t":"1849-02-22","v":-8,"g":2},{"t":"1849-02-26","v":-8.3,"g":2},{"t":"1849-03-03","v":4,"g":2},{"t":"1849-03-08","v":6,"g":2},{"t":"1849-03-15","v":-5,"g":2},{"t":"1849-03-21","v":4,"g":2},{"t":"1849-03-29","v":-8,"g":2},{"t":"1849-04-04","v":4.5,"g":2},{"t":"1849-04-10","v":-3,"g":2},{"t":"1849-04-18","v":7.7,"g":2},{"t":"1849-04-24","v":-3.5,"g":2},{"t":"1849-04-30","v":4,"g":2},{"t":"1849-05-05","v":-3,"g":2},{"t":"1849-05-11","v":-8,"g":2},{"t":"1849-05-16","v":4,"g":2},{"t":"1849-05-21","v":6,"g":2},{"t":"1849-05-27","v":-3,"g":2},{"t":"1849-06-02","v":4,"g":2},{"t":"1849-06-07","v":-3.5,"g":2},{"t":"1849-06-13","v":-6.6,"g":2},{"t":"1849-06-18","v":4,"g":2},{"t":"1849-06-24","v":-3,"g":2},{"t":"1849-06-29","v":3.5,"g":2},{"t":"1849-07-03","v":-11.5,"g":2},{"t":"1849-07-08","v":3.5,"g":2},{"t":"1849-07-14","v":-3,"g":2},{"t":"1849-07-20","v":4,"g":2},{"t":"1849-07-26","v":-2.5,"g":2},{"t":"1849-08-01","v":3.5,"g":2},{"t":"1849-08-07","v":-3,"g":2},{"t":"1849-08-13","v":4,"g":2},{"t":"1849-08-19","v":-2,"g":2},{"t":"1849-08-25","v":3.5,"g":2},{"t":"1849-08-31","v":-2.5,"g":2},{"t":"1849-09-06","v":4.5,"g":2},{"t":"1849-09-12","v":-3,"g":2},{"t":"1849-09-18","v":3,"g":2},{"t":"1849-09-23","v":7,"g":2},{"t":"1849-09-25","v":-7.3,"g":2},{"t":"1849-09-28","v":2,"g":2}
],
"bs":[
{"t":"1844-01-13","v":-0.1,"g":1},{"t":"1844-01-18","v":-0.4,"g":1},{"t":"1844-01-28","v":-0.6,"g":1},{"t":"1844-02-02","v":-1.05,"g":1},{"t":"1844-02-11","v":-0.8,"g":1},{"t":"1844-02-15","v":-0.5,"g":1},{"t":"1844-02-21","v":-0.8,"g":1},{"t":"1844-02-29","v":-0.95,"g":1},{"t":"1844-03-05","v":0.15,"g":1},{"t":"1844-03-12","v":-0.2,"g":1},{"t":"1844-03-18","v":0.15,"g":1},{"t":"1844-03-26","v":-0.5,"g":1},{"t":"1844-04-04","v":-0.2,"g":1},{"t":"1844-04-14","v":0.35,"g":1},{"t":"1844-04-24","v":0.8,"g":1},{"t":"1844-05-02","v":1,"g":1},{"t":"1844-05-10","v":0.4,"g":1},{"t":"1844-05-20","v":-0.5,"g":1},{"t":"1844-05-30","v":-0.5,"g":1},{"t":"1844-06-09","v":0.15,"g":1},{"t":"1844-06-19","v":0.7,"g":1},
{"t":"1844-07-24","v":0.4,"g":2},{"t":"1844-08-01","v":0,"g":2},{"t":"1844-08-11","v":-0.4,"g":2},{"t":"1844-08-25","v":-0.2,"g":2},{"t":"1844-09-07","v":0.2,"g":2},{"t":"1844-09-20","v":0.1,"g":2},{"t":"1844-10-04","v":-0.2,"g":2},{"t":"1844-10-17","v":-0.4,"g":2},{"t":"1844-10-30","v":-0.8,"g":2},{"t":"1844-11-12","v":-0.4,"g":2},{"t":"1844-11-26","v":-0.5,"g":2},{"t":"1844-12-09","v":-0.2,"g":2},{"t":"1844-12-22","v":-0.8,"g":2},{"t":"1845-01-05","v":-0.5,"g":2},{"t":"1845-01-11","v":0.5,"g":2},{"t":"1845-01-21","v":0.15,"g":2},{"t":"1845-01-31","v":-0.4,"g":2},{"t":"1845-02-12","v":-0.9,"g":2},{"t":"1845-02-24","v":-1.4,"g":2},{"t":"1845-03-08","v":-1.2,"g":2},{"t":"1845-03-20","v":-0.7,"g":2},{"t":"1845-04-01","v":-0.9,"g":2},{"t":"1845-04-13","v":-0.4,"g":2},{"t":"1845-04-25","v":-0.5,"g":2},{"t":"1845-05-07","v":-0.2,"g":2},{"t":"1845-05-19","v":-0.3,"g":2},{"t":"1845-05-31","v":0,"g":2},{"t":"1845-06-12","v":-0.2,"g":2},{"t":"1845-06-24","v":0.3,"g":2},{"t":"1845-07-06","v":0.5,"g":2},{"t":"1845-07-18","v":0.2,"g":2},{"t":"1845-07-30","v":0.4,"g":2},{"t":"1845-08-10","v":0.1,"g":2},{"t":"1845-08-22","v":0.3,"g":2},{"t":"1845-09-03","v":-0.1,"g":2},{"t":"1845-09-15","v":0.1,"g":2},{"t":"1845-09-27","v":-0.3,"g":2},{"t":"1845-10-09","v":-0.2,"g":2},{"t":"1845-10-21","v":-0.5,"g":2},{"t":"1845-11-02","v":-0.3,"g":2},{"t":"1845-11-14","v":-0.6,"g":2},{"t":"1845-11-26","v":-0.4,"g":2},{"t":"1845-12-08","v":-0.8,"g":2},{"t":"1845-12-20","v":-1.1,"g":2},{"t":"1846-01-01","v":-0.9,"g":2},{"t":"1846-01-13","v":-0.3,"g":2},{"t":"1846-01-25","v":0,"g":2},{"t":"1846-02-06","v":-0.2,"g":2},{"t":"1846-02-18","v":0.4,"g":2},{"t":"1846-03-02","v":0.2,"g":2},{"t":"1846-03-14","v":0,"g":2},{"t":"1846-03-26","v":0.3,"g":2},{"t":"1846-04-07","v":-0.1,"g":2},{"t":"1846-04-18","v":0.4,"g":2},{"t":"1846-04-30","v":0.2,"g":2},{"t":"1846-05-12","v":0.6,"g":2},{"t":"1846-05-24","v":0.3,"g":2},{"t":"1846-06-05","v":0.5,"g":2},{"t":"1846-06-17","v":0.1,"g":2},{"t":"1846-06-29","v":0.4,"g":2},{"t":"1846-07-11","v":0,"g":2},{"t":"1846-07-23","v":0.5,"g":2},{"t":"1846-08-04","v":0.2,"g":2},{"t":"1846-08-12","v":0,"g":2},{"t":"1846-08-25","v":0.15,"g":2},{"t":"1846-09-11","v":0.4,"g":2},{"t":"1846-09-21","v":0.7,"g":2},{"t":"1846-10-01","v":0.4,"g":2},{"t":"1846-10-14","v":-0.6,"g":2},{"t":"1846-10-27","v":-0.6,"g":2},{"t":"1846-11-06","v":0,"g":2},{"t":"1846-11-16","v":0.4,"g":2},{"t":"1846-11-30","v":0.25,"g":2},{"t":"1846-12-06","v":-0.15,"g":2},{"t":"1846-12-11","v":-1.2,"g":2},
{"t":"1847-02-06","v":-1.45,"g":3},{"t":"1847-02-17","v":-1.2,"g":3},{"t":"1847-02-27","v":-0.6,"g":3},{"t":"1847-03-13","v":0.35,"g":3},{"t":"1847-03-26","v":0.4,"g":3},{"t":"1847-04-08","v":-0.2,"g":3},{"t":"1847-04-18","v":-0.8,"g":3},{"t":"1847-05-02","v":-0.4,"g":3},{"t":"1847-05-15","v":0.15,"g":3},{"t":"1847-05-25","v":0.6,"g":3},{"t":"1847-06-07","v":0,"g":3},{"t":"1847-06-27","v":0,"g":3},{"t":"1847-07-17","v":0.25,"g":3},{"t":"1847-08-06","v":0.15,"g":3},{"t":"1847-08-26","v":0.2,"g":3},{"t":"1847-09-15","v":0.9,"g":3},{"t":"1847-09-25","v":1.05,"g":3},{"t":"1847-10-11","v":0.35,"g":3},{"t":"1847-10-31","v":0.25,"g":3},{"t":"1847-11-20","v":0.4,"g":3},{"t":"1847-12-10","v":0.15,"g":3},{"t":"1847-12-20","v":0,"g":3},{"t":"1848-01-06","v":0,"g":3},{"t":"1848-01-19","v":-0.5,"g":3},{"t":"1848-02-01","v":-0.2,"g":3},{"t":"1848-02-14","v":-0.4,"g":3},{"t":"1848-02-28","v":-0.6,"g":3},{"t":"1848-03-09","v":-0.95,"g":3},{"t":"1848-03-19","v":0.15,"g":3},{"t":"1848-04-01","v":0.2,"g":3},{"t":"1848-04-14","v":-0.3,"g":3},{"t":"1848-04-21","v":-0.35,"g":3},{"t":"1848-05-04","v":0.6,"g":3},{"t":"1848-05-17","v":0.9,"g":3},{"t":"1848-05-31","v":0,"g":3},{"t":"1848-06-13","v":0.5,"g":3},{"t":"1848-06-26","v":0.35,"g":3},{"t":"1848-07-09","v":0.7,"g":3},{"t":"1848-07-23","v":1.15,"g":3},{"t":"1848-08-05","v":1,"g":3},{"t":"1848-08-18","v":0.8,"g":3},{"t":"1848-08-28","v":1.05,"g":3},{"t":"1848-09-07","v":1.4,"g":3},{"t":"1848-09-17","v":0.9,"g":3},{"t":"1848-10-01","v":0.6,"g":3},{"t":"1848-10-11","v":-0.1,"g":3},{"t":"1848-10-21","v":0,"g":3},{"t":"1848-10-31","v":-0.7,"g":3},{"t":"1848-11-10","v":-0.95,"g":3},{"t":"1848-11-20","v":-0.85,"g":3},{"t":"1848-11-30","v":-0.35,"g":3},{"t":"1848-12-13","v":0,"g":3},{"t":"1848-12-26","v":0.8,"g":3},{"t":"1849-01-08","v":0.4,"g":3},{"t":"1849-01-21","v":0.15,"g":3},{"t":"1849-02-04","v":0,"g":3},{"t":"1849-02-17","v":0.35,"g":3},{"t":"1849-03-06","v":0.6,"g":3},{"t":"1849-03-19","v":0.15,"g":3},{"t":"1849-04-01","v":-0.1,"g":3},{"t":"1849-04-08","v":-0.5,"g":3},{"t":"1849-04-21","v":0,"g":3},{"t":"1849-05-05","v":0,"g":3},{"t":"1849-05-18","v":0.35,"g":3},{"t":"1849-05-31","v":0.5,"g":3},{"t":"1849-06-13","v":0.6,"g":3},{"t":"1849-06-23","v":-0.1,"g":3},{"t":"1849-07-03","v":0.6,"g":3},{"t":"1849-07-17","v":0.8,"g":3},{"t":"1849-07-30","v":0.9,"g":3},{"t":"1849-08-09","v":0.5,"g":3},{"t":"1849-08-19","v":0.8,"g":3},{"t":"1849-09-01","v":1.05,"g":3},{"t":"1849-09-08","v":1.35,"g":3},{"t":"1849-09-14","v":1.45,"g":3}
]
},
"vconcat":[
{"width":1133,"height":196,
"title":{"text":"a)Trechsel","fontSize":18,"fontWeight":"bold","color":"black","offset":-4,"baseline":"alphabetic","frame":"group"},
"encoding":{
"x":{"field":"t","type":"temporal","scale":{"type":"utc","domain":[{"year":1843,"month":10,"date":9,"utc":true},{"year":1849,"month":12,"date":13,"utc":true}]},
"axis":{"tickCount":{"interval":"month","step":3},"labelExpr":"utcmonth(datum.value) % 6 == 0 ? utcFormat(datum.value, '%Y/%m') : ''","labelFontSize":17.5,"labelColor":"black","labelPadding":0,"labelFlush":false,"labelOverlap":false,"labelAngle":0,"tickSize":6,"tickColor":"#333","grid":true,"gridColor":"#c8c8c8","gridDash":[2,2],"domain":true,"domainColor":"#555","title":"Date","titleFontSize":13,"titleFontWeight":"normal","titleColor":"black","titleY":42,"titleBaseline":"alphabetic"}},
"y":{"field":"v","type":"quantitative","scale":{"domain":[-10.8,10.9],"nice":false,"zero":false},
"axis":{"values":[-10,-9,-8,-7,-6,-5,-4,-3,-2,-1,0,1,2,3,4,5,6,7,8,9,10,10.9],"labelExpr":"datum.value % 5 == 0 ? toString(datum.value) : ''","labelAngle":-90,"labelAlign":"center","labelBaseline":"alphabetic","labelFontSize":17.5,"labelColor":"black","labelPadding":9,"labelOverlap":false,"labelFlush":false,"tickSize":6.5,"tickColor":"#333","tickOpacity":{"condition":{"test":"datum.value % 5 == 0","value":1},"value":0},"grid":true,"gridColor":{"condition":{"test":"datum.value % 2 == 0 || datum.value > 10.5","value":"#444"},"value":"#bdbdbd"},"gridDash":{"condition":{"test":"datum.value % 2 == 0 || datum.value > 10.5","value":[]},"value":[2,2]},"domain":true,"domainColor":"#555","title":"hPa","titleFontSize":12.5,"titleFontWeight":"normal","titleColor":"black","titleX":-41,"titleY":98,"titleBaseline":"middle"}},
"detail":{"field":"g","type":"nominal"}},
"layer":[
{"data":{"name":"ar"},"mark":{"type":"line","color":"#bdbdbd","strokeWidth":1,"clip":true}},
{"data":{"name":"as"},"mark":{"type":"line","color":"black","strokeWidth":2.8,"clip":true}}
]},
{"width":1133,"height":196,
"title":{"text":"b)Benoit","fontSize":18,"fontWeight":"bold","color":"black","offset":-4,"baseline":"alphabetic","frame":"group"},
"encoding":{
"x":{"field":"t","type":"temporal","scale":{"type":"utc","domain":[{"year":1843,"month":10,"date":9,"utc":true},{"year":1849,"month":12,"date":13,"utc":true}]},
"axis":{"tickCount":{"interval":"month","step":3},"labelExpr":"utcmonth(datum.value) % 6 == 0 ? utcFormat(datum.value, '%Y/%m') : ''","labelFontSize":17.5,"labelColor":"black","labelPadding":0,"labelFlush":false,"labelOverlap":false,"labelAngle":0,"tickSize":6,"tickColor":"#333","grid":true,"gridColor":"#c8c8c8","gridDash":[2,2],"domain":true,"domainColor":"#555","title":"Date","titleFontSize":13,"titleFontWeight":"normal","titleColor":"black","titleY":42,"titleBaseline":"alphabetic"}},
"y":{"field":"v","type":"quantitative","scale":{"domain":[-10.8,10.9],"nice":false,"zero":false},
"axis":{"values":[-10,-9,-8,-7,-6,-5,-4,-3,-2,-1,0,1,2,3,4,5,6,7,8,9,10,10.9],"labelExpr":"datum.value % 5 == 0 ? toString(datum.value) : ''","labelAngle":-90,"labelAlign":"center","labelBaseline":"alphabetic","labelFontSize":17.5,"labelColor":"black","labelPadding":9,"labelOverlap":false,"labelFlush":false,"tickSize":6.5,"tickColor":"#333","tickOpacity":{"condition":{"test":"datum.value % 5 == 0","value":1},"value":0},"grid":true,"gridColor":{"condition":{"test":"datum.value % 2 == 0 || datum.value > 10.5","value":"#444"},"value":"#bdbdbd"},"gridDash":{"condition":{"test":"datum.value % 2 == 0 || datum.value > 10.5","value":[]},"value":[2,2]},"domain":true,"domainColor":"#555","title":"hPa","titleFontSize":12.5,"titleFontWeight":"normal","titleColor":"black","titleX":-41,"titleY":98,"titleBaseline":"middle"}},
"detail":{"field":"g","type":"nominal"}},
"layer":[
{"data":{"name":"br"},"mark":{"type":"line","color":"#bdbdbd","strokeWidth":1,"clip":true}},
{"data":{"name":"bs"},"mark":{"type":"line","color":"black","strokeWidth":2.8,"clip":true}}
]}
]
}
